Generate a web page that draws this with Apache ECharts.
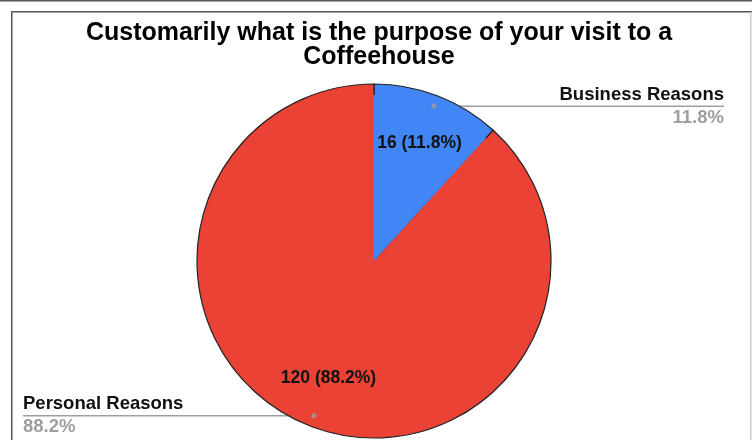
<!DOCTYPE html>
<html>
<head>
<meta charset="utf-8">
<script src="https://cdn.jsdelivr.net/npm/echarts@6/dist/echarts.min.js"></script>
<style>
  html, body { margin: 0; padding: 0; background: #fff; }
  #chart { width: 752px; height: 440px; }
</style>
</head>
<body>
<div id="chart"></div>
<script>
// Survey answers: purpose of a coffeehouse visit
const categories = ['Business Reasons', 'Personal Reasons'];
const counts = [16, 120];
const sliceColors = ['#4285f4', '#ea4335'];
const titleText = 'Customarily what is the purpose of your visit to a\nCoffeehouse';

const FONT = '"Liberation Sans", Arial, sans-serif';
const CENTER = [374, 261];
const R = 177;
const LEADER_R = 166;

const pieData = categories.map((name, i) => ({
  name: name,
  value: counts[i],
  itemStyle: { color: sliceColors[i] }
}));

// Mid angle of each slice (degrees clockwise from 12 o'clock), for leader dots
const total = counts.reduce((a, b) => a + b, 0);
let acc = 0;
const midAngles = counts.map(v => {
  const mid = (acc + v / 2) / total * 360;
  acc += v;
  return mid;
});

const chart = echarts.init(document.getElementById('chart'), null, { renderer: 'canvas' });

chart.setOption({
  backgroundColor: '#fff',
  animation: false,
  title: {
    text: titleText,
    left: 374,
    top: 16,
    textAlign: 'center',
    textStyle: {
      fontFamily: FONT,
      fontSize: 25,
      fontWeight: 'bold',
      color: '#000',
      lineHeight: 24
    }
  },
  polar: { center: CENTER, radius: R },
  angleAxis: { type: 'value', min: 0, max: 360, startAngle: 90, clockwise: true, show: false },
  radiusAxis: { type: 'value', min: 0, max: R, show: false },
  graphic: [
    { type: 'rect', shape: { x: 0, y: 0, width: 752, height: 1.5 }, style: { fill: '#555' }, silent: true },
    { type: 'rect', shape: { x: 11, y: 11, width: 741, height: 1.5 }, style: { fill: '#555' }, silent: true },
    { type: 'rect', shape: { x: 11, y: 11, width: 1.5, height: 429 }, style: { fill: '#555' }, silent: true },
    { type: 'rect', shape: { x: 750, y: 12, width: 1.5, height: 428 }, style: { fill: '#ccc' }, silent: true }
  ],
  series: [
    {
      // the pie itself
      type: 'pie',
      center: CENTER,
      radius: R,
      startAngle: 90,
      clockwise: true,
      silent: true,
      data: pieData,
      label: { show: false },
      labelLine: { show: false },
      itemStyle: { borderColor: '#222', borderWidth: 1.2 }
    },
    {
      // value labels inside each slice
      type: 'pie',
      center: CENTER,
      radius: [88, 158],
      startAngle: 90,
      clockwise: true,
      silent: true,
      data: pieData,
      itemStyle: { color: 'rgba(0,0,0,0)', borderWidth: 0 },
      label: {
        show: true,
        position: 'inside',
        formatter: p => p.value + ' (' + p.percent.toFixed(1) + '%)',
        fontFamily: FONT,
        fontSize: 17.5,
        fontWeight: 'bold',
        color: '#111'
      },
      labelLine: { show: false }
    },
    {
      // legend-style leader labels
      type: 'pie',
      center: CENTER,
      radius: LEADER_R,
      startAngle: 90,
      clockwise: true,
      silent: true,
      data: pieData,
      itemStyle: { color: 'rgba(0,0,0,0)', borderWidth: 0 },
      label: {
        show: true,
        position: 'outside',
        alignTo: 'edge',
        edgeDistance: 25,
        formatter: p => '{name|' + p.name + '}\n{pct|' + p.percent.toFixed(1) + '%}',
        rich: {
          name: { fontFamily: FONT, fontSize: 18.5, fontWeight: 'bold', color: '#111', lineHeight: 23 },
          pct: { fontFamily: FONT, fontSize: 18.5, fontWeight: 'bold', color: '#9e9e9e', lineHeight: 23 }
        }
      },
      labelLine: {
        show: true,
        length: 0,
        length2: 10,
        lineStyle: { color: '#9e9e9e', width: 1.5 }
      },
      labelLayout: function (params) {
        const p0 = params.labelLinePoints[0];
        const isRight = p0[0] > CENTER[0];
        const endX = isRight ? 724 : 23;
        return {
          x: endX,
          y: p0[1],
          align: isRight ? 'right' : 'left',
          verticalAlign: 'middle',
          labelLinePoints: [[p0[0], p0[1]], [p0[0], p0[1]], [endX, p0[1]]]
        };
      }
    },
    {
      // small dots where the leader lines start
      type: 'scatter',
      coordinateSystem: 'polar',
      silent: true,
      symbol: 'circle',
      symbolSize: 5,
      itemStyle: { color: '#9e9e9e' },
      data: midAngles.map(a => [LEADER_R, a]),
      z: 5
    }
  ]
});
</script>
</body>
</html>
